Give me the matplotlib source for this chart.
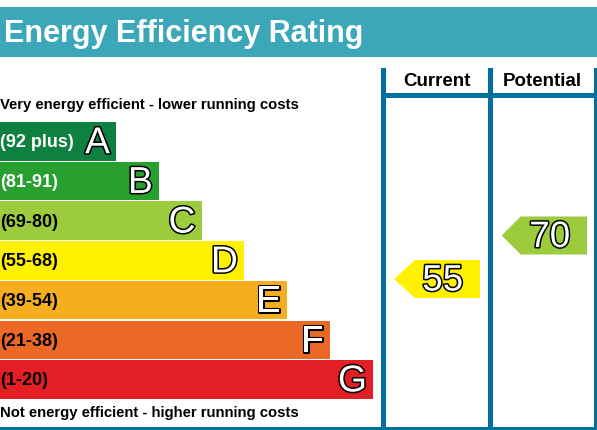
import matplotlib.pyplot as plt
from matplotlib.patches import Rectangle, Polygon
import matplotlib.patheffects as pe

plt.rcParams["font.family"] = ["Liberation Sans", "DejaVu Sans"]

# EPC bands, top (A) to bottom (G)
bands = ["A", "B", "C", "D", "E", "F", "G"]
ranges = ["(92 plus)", "(81-91)", "(69-80)", "(55-68)", "(39-54)", "(21-38)", "(1-20)"]
band_ends = [116, 159, 201.5, 244, 287, 330, 373]   # bar right edge, px
band_colors = ["#0e8040", "#27a030", "#9dcb3e", "#fff100", "#f6ae21", "#ec6925", "#e31e25"]
range_text_colors = ["white", "white", "black", "black", "black", "black", "black"]

current_score = 55
potential_score = 70
current_color = "#fff100"
potential_color = "#9dcb3e"

teal = "#3ca7b9"
blue = "#00719e"

fig = plt.figure(figsize=(5.97, 4.30), dpi=100)
ax = fig.add_axes([0, 0, 1, 1])
ax.set_xlim(0, 597)
ax.set_ylim(430, 0)
ax.axis("off")

# header band
ax.add_patch(Rectangle((0, 7), 597, 50, color=teal, lw=0))
ax.text(4, 34, "Energy Efficiency Rating", color="white", fontsize=22,
        fontweight="bold", ha="left", va="center")

ax.text(0, 105, "Very energy efficient - lower running costs", fontsize=10.7,
        fontweight="bold", ha="left", va="center")
ax.text(0, 413, "Not energy efficient - higher running costs", fontsize=10.7,
        fontweight="bold", ha="left", va="center")

outline = [pe.Stroke(linewidth=2.2, foreground="black"), pe.Normal()]
top0, pitch, h = 122, 39.7, 38.5
for i, (b, r, w, c, tc) in enumerate(zip(bands, ranges, band_ends, band_colors, range_text_colors)):
    y = top0 + i * pitch
    ax.barh(y + h / 2, w, height=h, left=0, color=c, lw=0)
    ax.text(0, y + h / 2 + 1.5, r, color=tc, fontsize=13, fontweight="bold",
            ha="left", va="center")
    ax.text(w - 6, y + h / 2 + 2, b, color="white", fontsize=27,
            ha="right", va="center", path_effects=outline)

# column frame
ax.add_patch(Rectangle((381, 68), 5, 362, color=blue, lw=0))
ax.add_patch(Rectangle((488.3, 68), 4.5, 362, color=blue, lw=0))
ax.add_patch(Rectangle((594, 68), 3, 362, color=blue, lw=0))
ax.add_patch(Rectangle((381, 93.3), 216, 4.5, color=blue, lw=0))
ax.add_patch(Rectangle((0, 426.5), 597, 3.5, color=blue, lw=0))

ax.text(437, 82, "Current", fontsize=13.5, fontweight="bold", ha="center", va="center")
ax.text(542.5, 82, "Potential", fontsize=13.5, fontweight="bold", ha="center", va="center")


def score_y(s):
    return 235.5 + (70 - s) * 2.9


def arrow(tip, left, right, score, color):
    yc = score_y(score)
    half = 19
    pts = [(tip, yc), (left, yc - half), (right, yc - half), (right, yc + half), (left, yc + half)]
    ax.add_patch(Polygon(pts, closed=True, color=color, lw=0))
    ax.text(right - 17, yc + 2, str(score), color="white", fontsize=26.5,
            ha="right", va="center", path_effects=outline)


arrow(394, 415, 480, current_score, current_color)
arrow(501.7, 520.7, 587, potential_score, potential_color)

fig.savefig("out.png", dpi=100)
